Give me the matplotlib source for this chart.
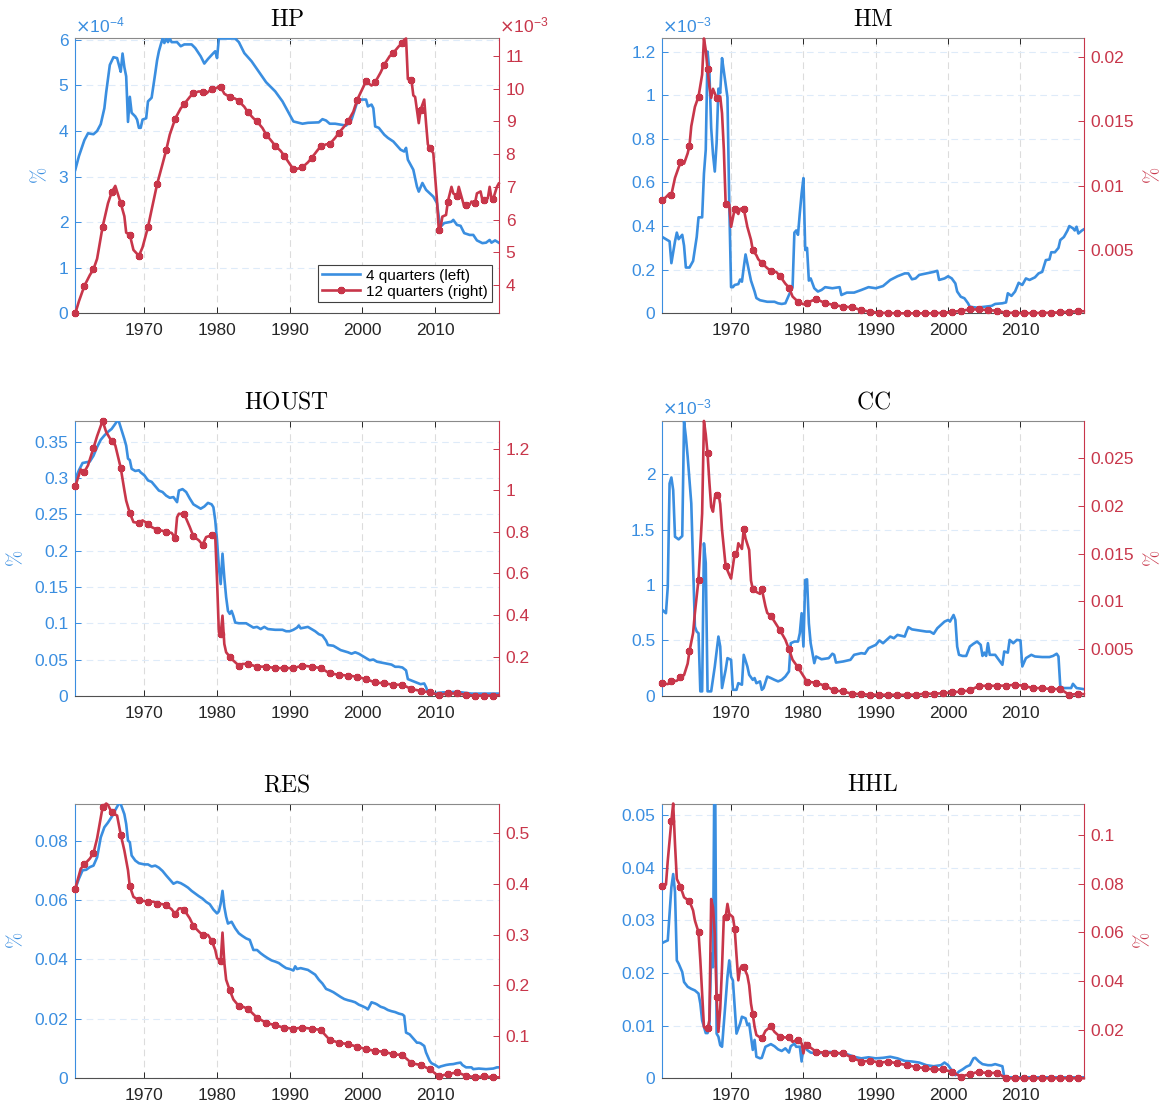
import numpy as np
import matplotlib
matplotlib.use("Agg")
import matplotlib.pyplot as plt
from matplotlib.ticker import FuncFormatter

plt.rcParams['font.family'] = ['Liberation Sans', 'DejaVu Sans']

BLUE = '#3a8ee0'
RED = '#c8364a'

# (year, value) pairs, values in the units shown on each axis
# 4-quarter series go on the left axis, 12-quarter series on the right axis
hp_4q = [(1960.5, 3.15), (1961.0, 3.45), (1961.75, 3.8), (1962.25, 3.95), (1963.0, 3.93), (1963.5, 4.0),
         (1964.0, 4.15), (1964.5, 4.5), (1964.75, 4.85), (1965.25, 5.45), (1965.75, 5.62), (1966.25, 5.6),
         (1966.5, 5.45), (1966.75, 5.3), (1967.0, 5.7), (1967.25, 5.4), (1967.5, 5.2), (1967.75, 4.2),
         (1968.0, 4.75), (1968.25, 4.4), (1968.75, 4.32), (1969.0, 4.25), (1969.25, 4.07), (1969.5, 4.07),
         (1969.75, 4.25), (1970.25, 4.28), (1970.5, 4.65), (1971.0, 4.73), (1971.5, 5.27), (1971.75, 5.55),
         (1972.0, 5.75), (1972.5, 6.03), (1972.75, 5.93), (1973.0, 6.03), (1973.25, 5.95), (1973.5, 6.03),
         (1973.75, 5.95), (1974.5, 5.95), (1975.0, 5.86), (1975.5, 5.9), (1976.5, 5.9), (1977.0, 5.82),
         (1977.75, 5.64), (1978.25, 5.48), (1978.75, 5.58), (1979.5, 5.71), (1979.75, 5.75), (1980.0, 5.6),
         (1980.25, 6.03), (1982.5, 6.03), (1983.0, 5.95), (1983.75, 5.71), (1984.75, 5.53), (1985.75, 5.3),
         (1986.75, 5.07), (1988.0, 4.87), (1989.0, 4.65), (1989.75, 4.43), (1990.5, 4.21), (1991.0, 4.19),
         (1991.75, 4.16), (1992.5, 4.18), (1994.0, 4.19), (1994.5, 4.26), (1995.0, 4.23), (1995.5, 4.16),
         (1996.25, 4.16), (1997.0, 4.14), (1997.75, 4.12), (1998.5, 4.25), (1999.25, 4.62), (1999.75, 4.69),
         (2000.5, 4.69), (2000.75, 4.54), (2001.25, 4.58), (2001.5, 4.5), (2001.75, 4.1), (2002.25, 4.07),
         (2003.0, 3.92), (2003.5, 3.85), (2004.25, 3.77), (2005.25, 3.59), (2005.75, 3.55), (2006.0, 3.63),
         (2006.25, 3.37), (2007.0, 3.15), (2007.5, 2.78), (2007.75, 2.67), (2008.25, 2.86), (2008.75, 2.71),
         (2009.75, 2.56), (2010.25, 2.42), (2010.5, 2.12), (2010.75, 1.9), (2011.25, 1.98), (2012.25, 2.01),
         (2012.5, 2.05), (2013.0, 1.94), (2013.5, 1.92), (2014.0, 1.76), (2014.75, 1.72), (2015.25, 1.72),
         (2015.75, 1.6), (2016.5, 1.54), (2017.0, 1.55), (2017.5, 1.61), (2017.75, 1.55), (2018.25, 1.6),
         (2018.75, 1.55)]
hp_12q = [(1960.5, 3.13), (1961.0, 3.5), (1961.75, 3.97), (1962.5, 4.3), (1963.0, 4.48), (1963.5, 4.8),
          (1964.25, 5.77), (1965.0, 6.5), (1965.5, 6.83), (1966.0, 7.03), (1966.75, 6.5), (1967.25, 6.1),
          (1967.5, 5.6), (1968.0, 5.53), (1968.5, 5.07), (1969.25, 4.89), (1969.75, 5.15), (1970.5, 5.77),
          (1971.0, 6.3), (1971.75, 7.08), (1972.5, 7.7), (1973.0, 8.12), (1973.5, 8.6), (1974.25, 9.09),
          (1975.0, 9.4), (1975.5, 9.54), (1976.25, 9.75), (1976.75, 9.87), (1977.5, 9.92), (1978.0, 9.9),
          (1978.5, 9.85), (1979.25, 10.0), (1980.0, 10.03), (1980.25, 10.08), (1980.5, 10.06), (1981.0, 9.85),
          (1981.75, 9.75), (1982.5, 9.7), (1983.0, 9.62), (1983.75, 9.45), (1984.25, 9.28), (1985.0, 9.1),
          (1985.5, 9.0), (1986.25, 8.8), (1986.75, 8.6), (1987.5, 8.4), (1988.0, 8.26), (1988.75, 8.1),
          (1989.25, 7.95), (1990.0, 7.7), (1990.5, 7.54), (1991.0, 7.55), (1991.75, 7.6), (1992.5, 7.75),
          (1993.0, 7.88), (1993.75, 8.1), (1994.25, 8.24), (1995.0, 8.3), (1995.5, 8.31), (1996.25, 8.5),
          (1996.75, 8.65), (1997.5, 8.85), (1998.0, 9.0), (1998.75, 9.3), (1999.25, 9.65), (2000.0, 10.0),
          (2000.5, 10.23), (2001.25, 10.1), (2001.75, 10.2), (2002.5, 10.5), (2003.0, 10.74), (2003.75, 11.0),
          (2004.25, 11.1), (2005.0, 11.3), (2005.5, 11.4), (2005.75, 11.5), (2006.0, 11.54), (2006.25, 10.3),
          (2006.75, 10.26), (2007.0, 9.8), (2007.25, 9.75), (2007.75, 8.95), (2008.0, 9.36), (2008.5, 9.67),
          (2008.75, 8.95), (2009.0, 8.3), (2009.25, 8.19), (2009.75, 8.03), (2010.25, 6.6), (2010.5, 5.69),
          (2010.75, 5.75), (2011.0, 6.09), (2011.5, 6.14), (2011.75, 6.55), (2012.25, 7.0), (2012.5, 6.8),
          (2013.0, 6.71), (2013.25, 7.0), (2013.5, 6.8), (2014.0, 6.4), (2014.25, 6.45), (2014.75, 6.45),
          (2015.0, 6.55), (2015.5, 6.52), (2015.75, 6.8), (2016.25, 6.86), (2016.5, 6.6), (2016.75, 6.6),
          (2017.25, 6.65), (2017.5, 7.0), (2017.75, 6.65), (2018.0, 6.64), (2018.5, 7.0), (2018.75, 7.1)]

hm_4q = [(1960.5, 0.35), (1961.0, 0.34), (1961.5, 0.33), (1961.75, 0.23), (1962.25, 0.33), (1962.5, 0.37),
         (1962.75, 0.34), (1963.25, 0.36), (1963.5, 0.31), (1963.75, 0.21), (1964.25, 0.21), (1964.75, 0.24),
         (1965.25, 0.35), (1965.5, 0.44), (1966.0, 0.44), (1966.25, 0.64), (1966.5, 0.75), (1966.75, 1.2),
         (1967.0, 1.11), (1967.25, 0.85), (1967.5, 0.73), (1967.75, 0.65), (1968.0, 0.78), (1968.25, 1.03),
         (1968.5, 1.01), (1968.75, 1.17), (1969.0, 1.11), (1969.5, 0.99), (1969.75, 0.5), (1970.0, 0.12),
         (1970.25, 0.12), (1970.5, 0.13), (1971.0, 0.134), (1971.25, 0.155), (1971.5, 0.145), (1971.75, 0.21),
         (1972.0, 0.27), (1972.25, 0.23), (1972.75, 0.15), (1973.25, 0.1), (1973.5, 0.07), (1974.0, 0.06),
         (1975.0, 0.053), (1976.0, 0.053), (1976.5, 0.046), (1977.0, 0.043), (1977.5, 0.046), (1978.0, 0.084),
         (1978.5, 0.12), (1978.75, 0.37), (1979.0, 0.38), (1979.25, 0.36), (1979.5, 0.46), (1979.75, 0.55),
         (1980.0, 0.62), (1980.25, 0.29), (1980.5, 0.3), (1980.75, 0.15), (1981.0, 0.16), (1981.5, 0.115),
         (1982.0, 0.1), (1982.5, 0.107), (1983.0, 0.12), (1984.0, 0.115), (1985.0, 0.12), (1985.25, 0.084),
         (1986.0, 0.095), (1987.0, 0.095), (1988.0, 0.107), (1989.0, 0.12), (1990.0, 0.115), (1991.0, 0.125),
         (1992.0, 0.153), (1993.0, 0.17), (1994.0, 0.183), (1994.5, 0.183), (1995.0, 0.156), (1995.5, 0.16),
         (1996.0, 0.176), (1997.0, 0.183), (1998.0, 0.19), (1998.5, 0.195), (1998.75, 0.153), (1999.5, 0.16),
         (2000.0, 0.17), (2000.5, 0.16), (2001.0, 0.137), (2001.25, 0.1), (2001.75, 0.076), (2002.25, 0.069),
         (2002.75, 0.046), (2003.0, 0.03), (2004.0, 0.026), (2005.0, 0.03), (2006.0, 0.034), (2006.5, 0.043),
         (2007.5, 0.046), (2008.0, 0.05), (2008.25, 0.092), (2008.75, 0.08), (2009.25, 0.1), (2009.75, 0.14),
         (2010.25, 0.13), (2010.75, 0.16), (2011.25, 0.153), (2012.0, 0.165), (2012.5, 0.183), (2013.0, 0.19),
         (2013.5, 0.244), (2014.0, 0.247), (2014.25, 0.28), (2014.75, 0.28), (2015.25, 0.3), (2015.5, 0.336),
         (2016.0, 0.35), (2016.5, 0.38), (2016.75, 0.4), (2017.25, 0.39), (2017.5, 0.38), (2017.75, 0.397),
         (2018.0, 0.366), (2018.5, 0.38), (2018.75, 0.385)]
hm_12q = [(1960.5, 0.0089), (1961.0, 0.0091), (1961.5, 0.0094), (1961.75, 0.0093), (1962.25, 0.0106),
          (1963.0, 0.0118), (1963.5, 0.0117), (1964.0, 0.0125), (1964.25, 0.0131), (1964.5, 0.0146),
          (1965.0, 0.0161), (1965.5, 0.0169), (1966.0, 0.0186), (1966.25, 0.0214), (1966.5, 0.0205),
          (1966.75, 0.019), (1967.0, 0.0177), (1967.25, 0.0168), (1967.5, 0.0175), (1968.0, 0.0168),
          (1968.5, 0.0169), (1968.75, 0.0156), (1969.0, 0.0128), (1969.25, 0.0086), (1969.75, 0.0085),
          (1970.0, 0.0068), (1970.5, 0.0082), (1971.0, 0.0078), (1971.25, 0.0082), (1971.75, 0.0082),
          (1972.25, 0.0068), (1972.75, 0.0058), (1973.0, 0.005), (1973.5, 0.0046), (1973.75, 0.0043),
          (1974.25, 0.004), (1975.0, 0.0036), (1975.5, 0.0034), (1976.25, 0.0033), (1976.75, 0.003),
          (1977.5, 0.0024), (1978.0, 0.0021), (1978.5, 0.0014), (1979.25, 0.001), (1980.0, 0.0008),
          (1980.5, 0.0009), (1981.25, 0.0011), (1981.75, 0.0012), (1983.0, 0.0009), (1984.25, 0.00074),
          (1985.5, 0.00062), (1986.75, 0.00056), (1988.0, 0.00035), (1989.25, 0.00022), (1990.5, 0.00014),
          (1991.75, 0.00012), (1993.0, 0.0001), (1994.25, 0.0001), (1995.5, 0.0001), (1996.75, 0.0001),
          (1998.0, 0.0001), (1999.25, 0.00014), (2000.5, 0.0002), (2001.75, 0.0003), (2003.0, 0.0004),
          (2004.25, 0.0004), (2005.5, 0.00035), (2006.75, 0.0003), (2008.0, 0.00014), (2009.25, 0.00014),
          (2010.5, 0.0001), (2011.75, 0.00012), (2013.0, 0.00013), (2014.25, 0.00015), (2015.5, 0.00018),
          (2016.75, 0.00022), (2018.0, 0.00026), (2018.75, 0.00026)]

houst_4q = [(1960.5, 0.299), (1961.0, 0.311), (1961.5, 0.321), (1962.0, 0.322), (1962.5, 0.323), (1963.0, 0.331),
            (1963.5, 0.343), (1964.0, 0.353), (1964.5, 0.359), (1965.0, 0.364), (1965.5, 0.368), (1966.0, 0.375),
            (1966.25, 0.379), (1966.5, 0.378), (1966.75, 0.37), (1967.25, 0.354), (1967.5, 0.345), (1967.75, 0.327),
            (1968.0, 0.325), (1968.25, 0.313), (1968.75, 0.31), (1969.25, 0.311), (1969.5, 0.308), (1970.0, 0.304),
            (1970.5, 0.297), (1971.0, 0.295), (1971.5, 0.289), (1972.0, 0.283), (1972.5, 0.281), (1973.0, 0.276),
            (1973.5, 0.273), (1974.0, 0.274), (1974.5, 0.267), (1974.75, 0.283), (1975.25, 0.285), (1975.75, 0.281),
            (1976.25, 0.272), (1976.75, 0.264), (1977.25, 0.261), (1977.75, 0.258), (1978.25, 0.261),
            (1978.75, 0.266), (1979.25, 0.264), (1979.5, 0.26), (1979.75, 0.242), (1980.0, 0.214), (1980.25, 0.177),
            (1980.5, 0.154), (1980.75, 0.196), (1981.0, 0.163), (1981.25, 0.136), (1981.5, 0.117), (1981.75, 0.113),
            (1982.0, 0.117), (1982.25, 0.11), (1982.5, 0.101), (1983.0, 0.1), (1984.0, 0.1), (1984.5, 0.097),
            (1985.0, 0.094), (1985.5, 0.095), (1986.0, 0.092), (1986.5, 0.095), (1987.0, 0.092), (1988.0, 0.091),
            (1989.0, 0.091), (1989.5, 0.089), (1990.0, 0.089), (1990.5, 0.091), (1991.0, 0.094), (1991.25, 0.097),
            (1991.5, 0.093), (1992.0, 0.094), (1992.5, 0.095), (1993.0, 0.092), (1993.5, 0.089), (1994.0, 0.085),
            (1994.5, 0.083), (1995.0, 0.076), (1995.25, 0.07), (1996.0, 0.069), (1996.5, 0.066), (1997.0, 0.063),
            (1998.0, 0.06), (1998.5, 0.058), (1999.0, 0.06), (1999.5, 0.058), (2000.0, 0.055), (2000.5, 0.052),
            (2001.0, 0.049), (2001.5, 0.05), (2002.0, 0.047), (2003.0, 0.045), (2004.0, 0.043), (2004.5, 0.04),
            (2005.0, 0.04), (2005.5, 0.039), (2006.0, 0.035), (2006.25, 0.023), (2006.75, 0.021), (2007.5, 0.018),
            (2008.0, 0.016), (2008.5, 0.017), (2008.75, 0.012), (2009.0, 0.005), (2009.5, 0.003), (2011.0, 0.0046),
            (2013.0, 0.0055), (2015.0, 0.003), (2018.75, 0.003)]
houst_12q = [(1960.5, 1.019), (1961.25, 1.1), (1961.75, 1.088), (1962.25, 1.12), (1963.0, 1.203), (1963.5, 1.26),
             (1964.25, 1.333), (1964.75, 1.28), (1965.5, 1.235), (1966.0, 1.216), (1966.75, 1.107), (1967.25, 1.0),
             (1967.5, 0.95), (1968.0, 0.89), (1968.5, 0.847), (1969.25, 0.842), (1969.75, 0.855), (1970.5, 0.839),
             (1971.0, 0.823), (1971.75, 0.81), (1972.5, 0.805), (1973.0, 0.799), (1973.75, 0.795), (1974.25, 0.77),
             (1974.5, 0.87), (1974.75, 0.887), (1975.5, 0.884), (1976.25, 0.823), (1976.75, 0.778), (1977.5, 0.759),
             (1978.0, 0.738), (1978.5, 0.775), (1979.25, 0.783), (1979.75, 0.778), (1980.0, 0.566), (1980.25, 0.317),
             (1980.5, 0.309), (1980.75, 0.397), (1981.0, 0.261), (1981.25, 0.221), (1981.75, 0.2), (1982.25, 0.181),
             (1983.0, 0.157), (1983.5, 0.165), (1984.25, 0.165), (1985.5, 0.152), (1986.75, 0.152), (1988.0, 0.145),
             (1989.25, 0.145), (1990.5, 0.145), (1991.75, 0.157), (1993.0, 0.152), (1994.25, 0.145), (1995.5, 0.12),
             (1996.75, 0.113), (1998.0, 0.109), (1999.25, 0.104), (2000.5, 0.092), (2001.75, 0.076), (2003.0, 0.072),
             (2004.25, 0.065), (2005.5, 0.065), (2006.75, 0.044), (2008.0, 0.036), (2009.25, 0.028), (2010.5, 0.017),
             (2011.75, 0.023), (2013.0, 0.023), (2014.25, 0.017), (2015.5, 0.013), (2016.75, 0.013), (2018.0, 0.013),
             (2018.75, 0.015)]

cc_4q = [(1960.5, 0.776), (1960.75, 0.76), (1961.0, 0.746), (1961.25, 0.986), (1961.5, 1.918), (1961.75, 1.972),
         (1962.0, 1.858), (1962.25, 1.437), (1962.75, 1.413), (1963.25, 1.443), (1963.5, 2.48), (1963.75, 2.34),
         (1964.0, 2.16), (1964.25, 1.948), (1964.5, 1.738), (1964.75, 1.167), (1965.0, 0.625), (1965.25, 0.58),
         (1965.5, 0.565), (1965.75, 0.04), (1966.0, 0.04), (1966.25, 1.377), (1966.5, 1.2), (1966.75, 0.04),
         (1967.25, 0.04), (1967.75, 0.265), (1968.25, 0.535), (1968.5, 0.445), (1968.75, 0.07), (1969.25, 0.235),
         (1969.5, 0.34), (1970.0, 0.325), (1970.25, 0.054), (1970.75, 0.054), (1971.0, 0.114), (1971.5, 0.1),
         (1971.75, 0.37), (1972.25, 0.265), (1972.5, 0.19), (1973.0, 0.144), (1973.25, 0.16), (1973.5, 0.114),
         (1974.0, 0.13), (1974.25, 0.054), (1974.5, 0.07), (1975.0, 0.174), (1975.5, 0.16), (1976.0, 0.144),
         (1976.5, 0.13), (1977.0, 0.144), (1977.5, 0.174), (1978.0, 0.22), (1978.25, 0.475), (1978.75, 0.49),
         (1979.25, 0.49), (1979.5, 0.565), (1979.75, 0.746), (1980.0, 0.445), (1980.25, 1.046), (1980.5, 1.052),
         (1980.75, 0.655), (1981.0, 0.475), (1981.25, 0.385), (1981.5, 0.295), (1981.75, 0.355), (1982.5, 0.33),
         (1983.5, 0.34), (1984.0, 0.38), (1984.25, 0.37), (1984.5, 0.3), (1985.5, 0.31), (1986.5, 0.325),
         (1987.0, 0.37), (1988.0, 0.385), (1988.5, 0.38), (1989.0, 0.43), (1989.5, 0.445), (1990.0, 0.46),
         (1990.5, 0.5), (1991.0, 0.475), (1991.5, 0.505), (1992.0, 0.535), (1992.5, 0.52), (1993.0, 0.55),
         (1994.0, 0.535), (1994.25, 0.58), (1994.5, 0.62), (1995.0, 0.6), (1995.5, 0.595), (1996.0, 0.59),
         (1997.0, 0.58), (1997.5, 0.58), (1998.0, 0.56), (1998.5, 0.61), (1999.0, 0.64), (1999.5, 0.67),
         (2000.0, 0.685), (2000.25, 0.67), (2000.75, 0.73), (2001.0, 0.685), (2001.25, 0.445), (2001.5, 0.37),
         (2002.0, 0.36), (2002.5, 0.36), (2003.0, 0.445), (2003.5, 0.47), (2004.0, 0.49), (2004.5, 0.46),
         (2004.75, 0.36), (2005.0, 0.39), (2005.25, 0.36), (2005.5, 0.475), (2005.75, 0.37), (2006.5, 0.37),
         (2007.0, 0.325), (2007.5, 0.28), (2007.75, 0.4), (2008.25, 0.39), (2008.5, 0.505), (2009.0, 0.475),
         (2009.5, 0.505), (2010.0, 0.5), (2010.25, 0.265), (2010.75, 0.34), (2011.5, 0.37), (2012.0, 0.355),
         (2013.0, 0.35), (2014.0, 0.35), (2014.5, 0.36), (2015.0, 0.38), (2015.25, 0.355), (2015.5, 0.084),
         (2016.0, 0.07), (2017.0, 0.07), (2017.25, 0.108), (2017.75, 0.07), (2018.75, 0.06)]
cc_12q = [(1960.5, 0.00145), (1961.25, 0.00135), (1961.75, 0.00163), (1962.5, 0.0017), (1963.0, 0.00208),
          (1963.5, 0.0023), (1964.0, 0.0035), (1964.25, 0.0048), (1964.75, 0.0067), (1965.0, 0.0088),
          (1965.5, 0.0123), (1966.0, 0.0192), (1966.25, 0.0289), (1966.5, 0.0275), (1966.75, 0.0255),
          (1967.0, 0.0225), (1967.25, 0.0199), (1967.5, 0.0194), (1967.75, 0.0209), (1968.0, 0.0211),
          (1968.25, 0.0213), (1968.5, 0.0202), (1968.75, 0.0175), (1969.25, 0.0137), (1969.75, 0.0128),
          (1970.0, 0.0124), (1970.5, 0.015), (1970.75, 0.0147), (1971.0, 0.0161), (1971.5, 0.0155),
          (1971.75, 0.0176), (1972.0, 0.0166), (1972.5, 0.0154), (1972.75, 0.0122), (1973.0, 0.0113),
          (1973.5, 0.011), (1974.0, 0.0108), (1974.25, 0.0113), (1974.75, 0.0095), (1975.0, 0.0088),
          (1975.5, 0.0085), (1976.0, 0.0079), (1976.75, 0.007), (1977.5, 0.006), (1978.0, 0.005),
          (1978.5, 0.0039), (1979.25, 0.0031), (1979.75, 0.0025), (1980.5, 0.0016), (1981.75, 0.0015),
          (1983.0, 0.00117), (1984.25, 0.00069), (1985.5, 0.00058), (1986.75, 0.00034), (1988.0, 0.0003),
          (1989.25, 0.00024), (1990.5, 0.00023), (1991.75, 0.00023), (1993.0, 0.00023), (1994.25, 0.00023),
          (1995.5, 0.00025), (1996.75, 0.00034), (1998.0, 0.00034), (1999.25, 0.0004), (2000.5, 0.00048),
          (2001.75, 0.00058), (2003.0, 0.00069), (2004.25, 0.00117), (2005.5, 0.00117), (2006.75, 0.00117),
          (2008.0, 0.0012), (2009.25, 0.00128), (2010.5, 0.00117), (2011.75, 0.00093), (2013.0, 0.00093),
          (2014.25, 0.00083), (2015.5, 0.00083), (2016.75, 0.00023), (2018.0, 0.00034), (2018.75, 0.0003)]

res_4q = [(1960.5, 0.0638), (1961.0, 0.0672), (1961.5, 0.07), (1962.0, 0.0702), (1962.5, 0.0711), (1963.0, 0.0716),
          (1963.5, 0.0744), (1964.0, 0.0811), (1964.5, 0.0845), (1965.0, 0.0861), (1965.5, 0.088), (1966.0, 0.0903),
          (1966.5, 0.0925), (1966.75, 0.0923), (1967.25, 0.0889), (1967.5, 0.0856), (1967.75, 0.08), (1968.0, 0.0795),
          (1968.25, 0.075), (1968.75, 0.0733), (1969.25, 0.0724), (1970.0, 0.072), (1970.5, 0.072), (1971.0, 0.0713),
          (1971.5, 0.0716), (1972.0, 0.0709), (1972.5, 0.0698), (1973.0, 0.0683), (1973.5, 0.0669), (1974.0, 0.0655),
          (1974.5, 0.0661), (1975.0, 0.0657), (1975.5, 0.065), (1976.0, 0.0642), (1976.5, 0.0631), (1977.0, 0.0622),
          (1977.5, 0.0613), (1978.0, 0.0605), (1978.5, 0.0594), (1979.0, 0.0586), (1979.5, 0.0568), (1980.0, 0.0555),
          (1980.25, 0.0562), (1980.5, 0.0588), (1980.75, 0.0631), (1981.0, 0.0577), (1981.25, 0.0544),
          (1981.5, 0.0521), (1982.0, 0.0527), (1982.5, 0.0505), (1983.0, 0.0488), (1983.5, 0.0479), (1984.0, 0.0471),
          (1984.5, 0.0466), (1985.0, 0.0432), (1985.5, 0.0432), (1986.0, 0.0421), (1986.5, 0.0412), (1987.0, 0.0404),
          (1987.5, 0.0397), (1988.0, 0.0393), (1988.5, 0.0388), (1989.0, 0.0379), (1989.5, 0.0371), (1990.0, 0.0368),
          (1990.5, 0.0363), (1990.75, 0.0377), (1991.0, 0.0368), (1991.5, 0.0371), (1992.0, 0.0368), (1992.5, 0.0365),
          (1993.0, 0.0357), (1993.5, 0.0349), (1994.0, 0.0332), (1994.5, 0.0319), (1995.0, 0.0301), (1995.5, 0.0296),
          (1996.0, 0.029), (1996.5, 0.0282), (1997.0, 0.0274), (1997.5, 0.0267), (1998.0, 0.0263), (1998.5, 0.026),
          (1999.0, 0.0256), (1999.5, 0.0248), (2000.0, 0.0243), (2000.5, 0.0237), (2000.75, 0.0232),
          (2001.25, 0.0256), (2001.75, 0.0252), (2002.0, 0.0249), (2002.5, 0.0241), (2003.0, 0.0237), (2003.5, 0.023),
          (2004.0, 0.0226), (2004.5, 0.0223), (2005.0, 0.0218), (2005.5, 0.0215), (2005.75, 0.021), (2006.0, 0.0154),
          (2006.5, 0.0148), (2007.0, 0.0134), (2007.5, 0.012), (2007.75, 0.012), (2008.0, 0.0118), (2008.5, 0.0109),
          (2008.75, 0.0087), (2009.25, 0.0059), (2009.5, 0.0051), (2010.0, 0.0045), (2010.5, 0.0037),
          (2010.75, 0.004), (2011.5, 0.0045), (2012.0, 0.0047), (2012.5, 0.0048), (2013.0, 0.0051), (2013.5, 0.0053),
          (2013.75, 0.0045), (2014.25, 0.0037), (2015.0, 0.0037), (2015.25, 0.0031), (2016.0, 0.0033),
          (2017.0, 0.0031), (2018.0, 0.0033), (2018.5, 0.0037), (2018.75, 0.0037)]
res_12q = [(1960.5, 0.391), (1961.25, 0.43), (1961.75, 0.4386), (1962.5, 0.45), (1963.0, 0.4608), (1963.5, 0.49),
           (1964.25, 0.551), (1964.75, 0.5588), (1965.0, 0.556), (1965.5, 0.5412), (1966.25, 0.535),
           (1966.75, 0.4974), (1967.25, 0.466), (1967.75, 0.427), (1968.0, 0.3954), (1968.5, 0.3745),
           (1969.25, 0.368), (1969.75, 0.367), (1970.5, 0.3647), (1971.25, 0.365), (1971.75, 0.3614), (1972.5, 0.36),
           (1973.0, 0.3582), (1973.75, 0.35), (1974.25, 0.3405), (1974.75, 0.3516), (1975.0, 0.352),
           (1975.5, 0.3484), (1976.25, 0.332), (1976.75, 0.317), (1977.5, 0.306), (1978.0, 0.2993),
           (1978.75, 0.2993), (1979.25, 0.2882), (1979.75, 0.27), (1980.0, 0.2536), (1980.25, 0.25),
           (1980.5, 0.2471), (1980.75, 0.304), (1981.0, 0.245), (1981.25, 0.211), (1981.75, 0.1902),
           (1982.25, 0.172), (1983.0, 0.1588), (1983.5, 0.158), (1984.25, 0.1536), (1985.5, 0.1359),
           (1986.75, 0.1261), (1988.0, 0.1209), (1989.25, 0.1163), (1990.5, 0.1144), (1991.75, 0.1163),
           (1993.0, 0.1144), (1994.25, 0.1118), (1995.5, 0.0922), (1996.75, 0.0869), (1998.0, 0.0837),
           (1999.25, 0.0791), (2000.5, 0.0739), (2001.75, 0.0706), (2003.0, 0.0686), (2004.25, 0.064),
           (2005.5, 0.0621), (2006.75, 0.0464), (2008.0, 0.0425), (2009.25, 0.0346), (2010.5, 0.0203),
           (2011.75, 0.0248), (2013.0, 0.0281), (2014.25, 0.0216), (2015.5, 0.0183), (2016.75, 0.0203),
           (2018.0, 0.0183), (2018.75, 0.0183)]

hhl_4q = [(1960.5, 0.0257), (1960.75, 0.0259), (1961.25, 0.0262), (1961.5, 0.0313), (1961.75, 0.0363),
          (1962.0, 0.0388), (1962.25, 0.0354), (1962.5, 0.0224), (1962.75, 0.0218), (1963.25, 0.0202),
          (1963.5, 0.0183), (1964.0, 0.0174), (1964.5, 0.017), (1965.0, 0.0167), (1965.5, 0.0161),
          (1965.75, 0.0142), (1966.0, 0.011), (1966.5, 0.0086), (1966.75, 0.0086), (1967.0, 0.0098),
          (1967.25, 0.0237), (1967.5, 0.0211), (1967.75, 0.07), (1968.0, 0.0085), (1968.25, 0.0079),
          (1968.5, 0.0063), (1968.75, 0.006), (1969.25, 0.0148), (1969.5, 0.0193), (1969.75, 0.0224),
          (1970.0, 0.0193), (1970.25, 0.0186), (1970.5, 0.0136), (1970.75, 0.0085), (1971.25, 0.0104),
          (1971.5, 0.0117), (1972.0, 0.0114), (1972.25, 0.0101), (1972.5, 0.0104), (1972.75, 0.0079),
          (1973.0, 0.0054), (1973.25, 0.0073), (1973.5, 0.0041), (1974.0, 0.0038), (1974.25, 0.0039),
          (1974.75, 0.006), (1975.5, 0.0065), (1976.0, 0.0061), (1976.5, 0.0055), (1977.0, 0.0052),
          (1977.5, 0.0057), (1978.0, 0.0049), (1978.25, 0.0061), (1978.75, 0.0066), (1979.0, 0.006),
          (1979.5, 0.006), (1979.75, 0.0032), (1980.0, 0.006), (1980.25, 0.006), (1980.5, 0.0054),
          (1981.0, 0.0049), (1982.0, 0.0047), (1983.0, 0.005), (1984.0, 0.005), (1985.0, 0.0047), (1985.5, 0.005),
          (1986.0, 0.0046), (1987.0, 0.0041), (1988.0, 0.0038), (1989.0, 0.004), (1990.0, 0.0038),
          (1991.0, 0.0039), (1992.0, 0.0041), (1993.0, 0.0038), (1994.0, 0.0033), (1995.0, 0.0032),
          (1996.0, 0.003), (1997.0, 0.0025), (1998.0, 0.0023), (1999.0, 0.0025), (1999.5, 0.003), (2000.0, 0.0025),
          (2000.5, 0.0015), (2001.0, 0.0006), (2001.5, 0.0013), (2002.0, 0.0017), (2002.5, 0.0022),
          (2003.0, 0.0025), (2003.5, 0.0038), (2003.75, 0.0039), (2004.25, 0.0032), (2004.75, 0.0027),
          (2005.5, 0.0025), (2006.0, 0.0025), (2006.5, 0.0027), (2007.0, 0.0025), (2007.5, 0.0023),
          (2007.75, 0.0003), (2008.25, 0.0002), (2018.75, 0.0002)]
hhl_12q = [(1960.5, 0.0792), (1961.0, 0.0796), (1961.25, 0.0894), (1961.75, 0.1057), (1962.0, 0.1128),
           (1962.25, 0.0962), (1962.5, 0.0819), (1963.0, 0.0788), (1963.5, 0.0744), (1964.0, 0.0733),
           (1964.25, 0.0728), (1964.75, 0.069), (1965.0, 0.0649), (1965.5, 0.0601), (1965.75, 0.0486),
           (1966.25, 0.0214), (1966.5, 0.0205), (1966.75, 0.0207), (1967.0, 0.024), (1967.25, 0.0737),
           (1967.5, 0.0703), (1967.75, 0.0595), (1968.0, 0.0336), (1968.25, 0.0193), (1968.5, 0.0288),
           (1968.75, 0.0459), (1969.0, 0.0665), (1969.25, 0.0663), (1969.5, 0.0717), (1969.75, 0.0676),
           (1970.25, 0.0663), (1970.5, 0.0615), (1970.75, 0.0506), (1971.0, 0.0404), (1971.25, 0.0452),
           (1971.5, 0.0465), (1971.75, 0.0459), (1972.25, 0.0424), (1972.5, 0.0384), (1972.75, 0.0309),
           (1973.0, 0.0265), (1973.25, 0.0214), (1973.5, 0.018), (1974.25, 0.0166), (1974.75, 0.0197),
           (1975.5, 0.0216), (1976.0, 0.0193), (1976.75, 0.0173), (1977.5, 0.017), (1978.0, 0.017),
           (1978.5, 0.0152), (1979.0, 0.016), (1979.25, 0.0159), (1979.75, 0.0146), (1980.0, 0.0105),
           (1980.25, 0.0148), (1980.5, 0.0139), (1981.75, 0.0112), (1983.0, 0.0107), (1984.25, 0.0107),
           (1985.5, 0.0105), (1986.75, 0.0087), (1988.0, 0.0071), (1989.25, 0.0075), (1990.5, 0.0067),
           (1991.75, 0.0071), (1993.0, 0.0064), (1994.25, 0.0057), (1995.5, 0.005), (1996.75, 0.0044),
           (1998.0, 0.0039), (1999.25, 0.0039), (2000.5, 0.003), (2001.75, 0.001), (2003.0, 0.002),
           (2004.25, 0.003), (2005.5, 0.0023), (2006.75, 0.0026), (2008.0, 0.0003), (2009.25, 0.0003),
           (2010.5, 0.0003), (2011.75, 0.0003), (2013.0, 0.0003), (2014.25, 0.0003), (2015.5, 0.0003),
           (2016.75, 0.0003), (2018.0, 0.0003), (2018.75, 0.0003)]

year_ticks = [1970, 1980, 1990, 2000, 2010]

# title, left series, right series, left ylim, right ylim, left ticks, right ticks,
# left exponent, right exponent, side of the % label
panels = [
    ('HP', hp_4q, hp_12q, (0, 6.03), (3.13, 11.54), [0, 1, 2, 3, 4, 5, 6],
     [4, 5, 6, 7, 8, 9, 10, 11], '-4', '-3', 'left'),
    ('HM', hm_4q, hm_12q, (0, 1.26), (0.0001, 0.0214), [0, 0.2, 0.4, 0.6, 0.8, 1, 1.2],
     [0.005, 0.01, 0.015, 0.02], '-3', None, 'right'),
    ('HOUST', houst_4q, houst_12q, (0, 0.379), (0.012, 1.333), [0, 0.05, 0.1, 0.15, 0.2, 0.25, 0.3, 0.35],
     [0.2, 0.4, 0.6, 0.8, 1, 1.2], None, None, 'left'),
    ('CC', cc_4q, cc_12q, (0, 2.483), (0.00013, 0.0289), [0, 0.5, 1, 1.5, 2],
     [0.005, 0.01, 0.015, 0.02, 0.025], '-3', None, 'right'),
    ('RES', res_4q, res_12q, (0, 0.0925), (0.0163, 0.5588), [0, 0.02, 0.04, 0.06, 0.08],
     [0.1, 0.2, 0.3, 0.4, 0.5], None, None, 'left'),
    ('HHL', hhl_4q, hhl_12q, (0, 0.0522), (0.00027, 0.1128), [0, 0.01, 0.02, 0.03, 0.04, 0.05],
     [0.02, 0.04, 0.06, 0.08, 0.1], None, None, 'right'),
]

lefts = [0.0648, 0.5700]
widths = [0.3644, 0.3627]
bottoms = [0.7167, 0.3709, 0.0250]
height = 0.2485

fmt = FuncFormatter(lambda v, p: '%g' % round(v, 6))
dash = (0, (6, 4))
TICK_SIZE = 12.5

fig = plt.figure(figsize=(11.62, 11.06), dpi=100)

for i, (title, s4, s12, lim4, lim12, tk4, tk12, e4, e12, pct) in enumerate(panels):
    col, row = i % 2, i // 2
    ax = fig.add_axes([lefts[col], bottoms[row], widths[col], height])
    ax2 = ax.twinx()

    yr4, v4 = np.array(s4).T
    yr12, v12 = np.array(s12).T
    # markers on every fifth quarter, starting from the first one
    qidx = np.round((yr12 - 1960.5) * 4).astype(int)
    marks = [int(k) for k in np.flatnonzero(qidx % 5 == 0)]

    l4, = ax.plot(yr4, v4, color=BLUE, lw=1.9, label='4 quarters (left)', zorder=3)
    l12, = ax2.plot(yr12, v12, color=RED, lw=1.9, marker=(8, 2, 0), ms=5.2, mew=1.6,
                    markevery=marks, clip_on=False, label='12 quarters (right)', zorder=3)

    ax.set_xlim(1960.5, 2018.75)
    ax.set_ylim(*lim4)
    ax2.set_ylim(*lim12)
    ax.set_xticks(year_ticks)
    ax.set_yticks(tk4)
    ax2.set_yticks(tk12)
    ax.yaxis.set_major_formatter(fmt)
    ax2.yaxis.set_major_formatter(fmt)

    ax.grid(axis='x', color='#dcdcdc', ls=dash, lw=0.8)
    ax.grid(axis='y', color='#deebf9', ls=dash, lw=0.8)
    ax.set_axisbelow(True)

    ax.tick_params(axis='x', colors='#262626', direction='in', length=4, width=0.7,
                   top=True, labelsize=TICK_SIZE, pad=7)
    ax.tick_params(axis='y', colors=BLUE, direction='in', length=4, width=0.7,
                   labelsize=TICK_SIZE, pad=5)
    ax2.tick_params(axis='y', colors=RED, direction='in', length=4, width=0.7,
                    labelsize=TICK_SIZE, pad=5)

    ax.spines['left'].set_color(BLUE)
    ax.spines['right'].set_visible(False)
    ax.spines['top'].set_color('#8a8a8a')
    ax.spines['bottom'].set_color('#505050')
    for s in ('left', 'top', 'bottom'):
        ax2.spines[s].set_visible(False)
    ax2.spines['right'].set_color(RED)
    for sp in list(ax.spines.values()) + list(ax2.spines.values()):
        sp.set_linewidth(0.8)

    ax.set_title(r'$\mathrm{%s}$' % title, math_fontfamily='cm', fontsize=17, pad=9)

    if pct == 'left':
        ax.set_ylabel(r'$\%$', math_fontfamily='cm', fontsize=14, color=BLUE, labelpad=6)
    else:
        ax2.set_ylabel(r'$\%$', math_fontfamily='cm', fontsize=14, color=RED, labelpad=6)

    if e4:
        ax.text(0.0, 1.012, r'$\times\mathregular{10^{%s}}$' % e4, transform=ax.transAxes,
                ha='left', va='bottom', color=BLUE, fontsize=TICK_SIZE)
    if e12:
        ax2.text(1.0, 1.012, r'$\times\mathregular{10^{%s}}$' % e12, transform=ax2.transAxes,
                 ha='left', va='bottom', color=RED, fontsize=TICK_SIZE)

    if title == 'HP':
        leg = ax2.legend([l4, l12], [l4.get_label(), l12.get_label()], loc='lower right',
                         bbox_to_anchor=(0.984, 0.04), borderaxespad=0, fontsize=11,
                         fancybox=False, edgecolor='#404040', framealpha=1, handlelength=2.5,
                         numpoints=1, borderpad=0.25, labelspacing=0.12, handletextpad=0.4)
        leg.get_frame().set_linewidth(0.8)

fig.savefig('out.png', dpi=100)
